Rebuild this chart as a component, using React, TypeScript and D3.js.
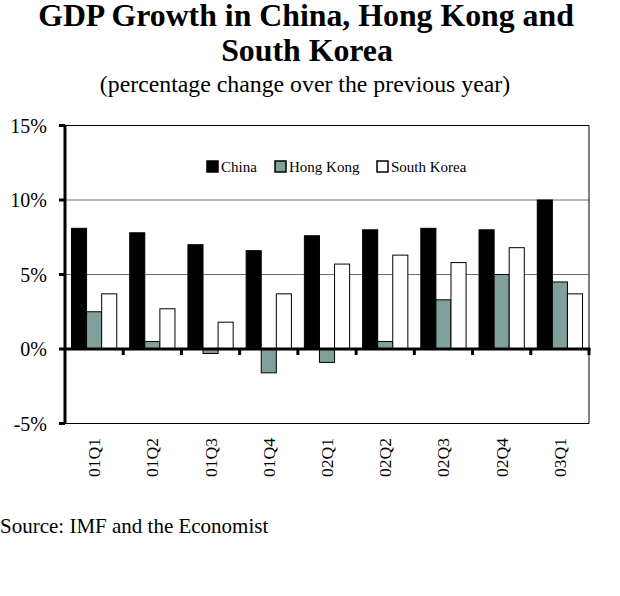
import React from "react";
import * as d3 from "d3";

const categories = ["01Q1", "01Q2", "01Q3", "01Q4", "02Q1", "02Q2", "02Q3", "02Q4", "03Q1"];
const seriesNames = ["China", "Hong Kong", "South Korea"];
const china = [8.1, 7.8, 7.0, 6.6, 7.6, 8.0, 8.1, 8.0, 10.0];
const hongKong = [2.5, 0.5, -0.3, -1.6, -0.9, 0.5, 3.3, 5.0, 4.5];
const southKorea = [3.7, 2.7, 1.8, 3.7, 5.7, 6.3, 5.8, 6.8, 3.7];
const yTicks = [-5, 0, 5, 10, 15];
const colors = ["#000000", "#80A09C", "#FFFFFF"];

const W = 620;
const H = 596;
const left = 65;
const right = 589;
const top = 125.5;
const bottom = 423.5;

export default function App() {
  const values = [china, hongKong, southKorea];
  const x = d3.scaleBand<string>().domain(categories).range([left, right]).padding(0);
  const xs = d3
    .scaleBand<string>()
    .domain(seriesNames)
    .range([0, x.bandwidth()])
    .paddingInner(0)
    .paddingOuter(0.43);
  const y = d3.scaleLinear().domain([-5, 15]).range([bottom, top]);
  const serif = "'Liberation Serif', 'Times New Roman', serif";

  const boundaries = categories.map((c) => (x(c) as number) + x.bandwidth());

  return (
    <svg
      width={W}
      height={H}
      style={{ position: "absolute", left: 0, top: 0, background: "#fff" }}
      fontFamily={serif}
    >
      <rect x={0} y={0} width={W} height={H} fill="#fff" />
      <text x={306} y={25.5} textAnchor="middle" fontSize={31.8} fontWeight="bold">
        GDP Growth in China, Hong Kong and
      </text>
      <text x={307} y={61} textAnchor="middle" fontSize={31.8} fontWeight="bold">
        South Korea
      </text>
      <text x={305} y={92} textAnchor="middle" fontSize={23.8}>
        (percentage change over the previous year)
      </text>

      {/* gridlines */}
      {[5, 10].map((t) => (
        <line key={t} x1={left} x2={right} y1={y(t)} y2={y(t)} stroke="#6e6e6e" strokeWidth={1} />
      ))}
      <line x1={left} x2={right} y1={y(15)} y2={y(15)} stroke="#000" strokeWidth={1} />
      <line x1={left} x2={right} y1={y(-5)} y2={y(-5)} stroke="#000" strokeWidth={1} />
      <line x1={right} x2={right} y1={y(15)} y2={y(-5)} stroke="#000" strokeWidth={1} />

      {/* bars */}
      {categories.map((c, i) => (
        <g key={c} transform={`translate(${x(c)},0)`}>
          {seriesNames.map((s, j) => {
            const v = values[j][i];
            return (
              <rect
                key={s}
                x={xs(s)}
                width={xs.bandwidth()}
                y={Math.min(y(v), y(0))}
                height={Math.abs(y(v) - y(0))}
                fill={colors[j]}
                stroke="#000"
                strokeWidth={1}
              />
            );
          })}
        </g>
      ))}

      {/* zero axis */}
      <line x1={left} x2={right + 1.5} y1={y(0)} y2={y(0)} stroke="#000" strokeWidth={3} />
      {boundaries.map((b, i) => (
        <line key={i} x1={b} x2={b} y1={y(0)} y2={y(0) + 6} stroke="#000" strokeWidth={3} />
      ))}

      {/* y axis */}
      <line x1={left} x2={left} y1={y(15)} y2={y(-5)} stroke="#000" strokeWidth={3} />
      {yTicks.map((t) => (
        <g key={t}>
          <line x1={left - 6} x2={left} y1={y(t)} y2={y(t)} stroke="#000" strokeWidth={3} />
          <text x={47} y={y(t) + 7} textAnchor="end" fontSize={20}>
            {`${t}%`}
          </text>
        </g>
      ))}

      {/* x labels */}
      {categories.map((c) => {
        const cx = (x(c) as number) + x.bandwidth() / 2 + 6;
        return (
          <text
            key={c}
            transform={`translate(${cx},438) rotate(-90)`}
            textAnchor="end"
            fontSize={17.5}
          >
            {c}
          </text>
        );
      })}

      {/* legend */}
      {seriesNames.map((s, j) => {
        const lx = [207, 275, 377][j];
        return (
          <g key={s}>
            <rect x={lx} y={161} width={11} height={11} fill={colors[j]} stroke="#000" strokeWidth={1.5} />
            <text x={lx + 14} y={172} fontSize={15}>
              {s}
            </text>
          </g>
        );
      })}

      <text x={0} y={533} fontSize={21}>
        Source: IMF and the Economist
      </text>
    </svg>
  );
}
